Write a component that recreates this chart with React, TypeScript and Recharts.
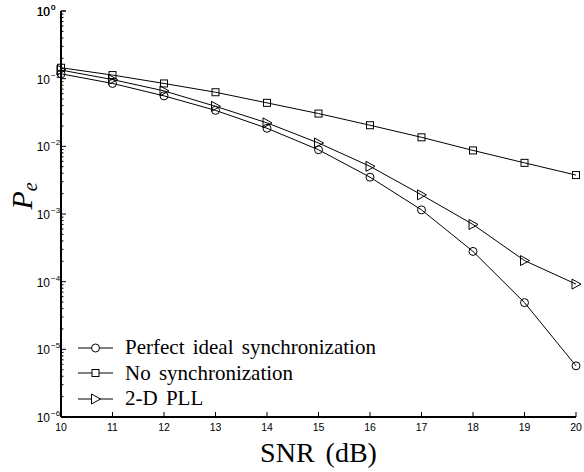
import React from "react";
import { LineChart, Line, XAxis, YAxis, Legend } from "recharts";

// SNR (dB) values on the x axis
const snr = [10, 11, 12, 13, 14, 15, 16, 17, 18, 19, 20];

// error probability per series
const perfectSync = [0.118, 0.085, 0.0557, 0.034, 0.0185, 0.0089, 0.0035, 0.00115, 0.00028, 0.000049, 0.0000057];
const noSync = [0.145, 0.113, 0.085, 0.063, 0.0439, 0.0305, 0.0205, 0.0136, 0.0087, 0.0057, 0.00376];
const pll2d = [0.134, 0.097, 0.066, 0.039, 0.0222, 0.0112, 0.00506, 0.00192, 0.0007, 0.000205, 0.000092];

// y axis decades (exponents of 10)
const decades = [-6, -5, -4, -3, -2, -1, 0];

const data = snr.map((s, i) => ({
  snr: s,
  perfect: perfectSync[i],
  nosync: noSync[i],
  pll: pll2d[i],
}));

// major + minor log ticks
const yTicks: number[] = [];
decades.forEach((e) => {
  if (e === 0) {
    yTicks.push(1);
    return;
  }
  for (let k = 1; k <= 9; k++) yTicks.push(k * Math.pow(10, e));
});
yTicks.push(1);

const sans = '"Liberation Sans", Arial, Helvetica, sans-serif';
const serif = '"Liberation Serif", "Times New Roman", serif';

const isMajor = (v: number) => {
  const l = Math.log10(v);
  return Math.abs(l - Math.round(l)) < 1e-6;
};

const LeftTick = (props: any) => {
  const { x, y, payload } = props;
  const v = payload.value;
  const major = isMajor(v);
  const exp = Math.round(Math.log10(v));
  return (
    <g>
      <line x1={x} x2={x + (major ? 5 : 2.5)} y1={y} y2={y} stroke="#000" />
      {major && (
        <>
          <text x={x - 11} y={y + 5} textAnchor="end" fontSize={12} fontFamily={sans} fill="#000">
            10
          </text>
          <text x={x - 10} y={y - 1} textAnchor="start" fontSize={8} fontFamily={sans} fill="#000">
            {exp < 0 ? "\u2212" + Math.abs(exp) : String(exp)}
          </text>
        </>
      )}
    </g>
  );
};

const RightTick = (props: any) => {
  const { x, y, payload } = props;
  const major = isMajor(payload.value);
  return <line x1={x} x2={x - (major ? 5 : 2.5)} y1={y} y2={y} stroke="#000" />;
};

const BottomTick = (props: any) => {
  const { x, y, payload } = props;
  return (
    <g>
      <line x1={x} x2={x} y1={y} y2={y - 5} stroke="#000" />
      <text x={x} y={y + 14} textAnchor="middle" fontSize={10.5} fontFamily={sans} fill="#000">
        {payload.value}
      </text>
    </g>
  );
};

const TopTick = (props: any) => {
  const { x, y } = props;
  return <line x1={x} x2={x} y1={y} y2={y + 5} stroke="#000" />;
};

const CircleDot = (p: any) => (
  <circle key={p.index} cx={p.cx} cy={p.cy} r={4} fill="none" stroke="#000" />
);
const SquareDot = (p: any) => (
  <rect key={p.index} x={p.cx - 3.5} y={p.cy - 3.5} width={7} height={7} fill="none" stroke="#000" />
);
const TriDot = (p: any) => (
  <polygon
    key={p.index}
    points={`${p.cx - 4},${p.cy - 5} ${p.cx - 4},${p.cy + 5} ${p.cx + 5},${p.cy}`}
    fill="none"
    stroke="#000"
  />
);

const legendItems = [
  { label: "Perfect ideal synchronization", marker: "circle" },
  { label: "No synchronization", marker: "square" },
  { label: "2-D PLL", marker: "tri" },
];

const renderLegend = () => (
  <div>
    {legendItems.map((it) => (
      <div key={it.label} style={{ display: "flex", alignItems: "center", height: 25.5 }}>
        <svg width={40} height={20} style={{ display: "block" }}>
          <line x1={2} x2={37} y1={10} y2={10} stroke="#000" />
          {it.marker === "circle" && <circle cx={19.5} cy={10} r={4} fill="#fff" stroke="#000" />}
          {it.marker === "square" && <rect x={16} y={6.5} width={7} height={7} fill="#fff" stroke="#000" />}
          {it.marker === "tri" && <polygon points="15.5,5 15.5,15 24.5,10" fill="#fff" stroke="#000" />}
        </svg>
        <span
          style={{
            marginLeft: 9,
            fontFamily: serif,
            fontSize: 21,
            wordSpacing: 3,
            color: "#000",
            whiteSpace: "nowrap",
            lineHeight: 1,
          }}
        >
          {it.label}
        </span>
      </div>
    ))}
  </div>
);

export default function App() {
  return (
    <div style={{ position: "absolute", left: 0, top: 0, background: "#fff" }}>
      <LineChart width={584} height={472} data={data} margin={{ top: 11, right: 8, bottom: 0, left: 0 }}>
        <XAxis
          xAxisId="b"
          dataKey="snr"
          type="number"
          domain={[10, 20]}
          ticks={snr}
          interval={0}
          height={55}
          tickSize={0}
          tickMargin={0}
          tickLine={false}
          axisLine={{ stroke: "#000", strokeWidth: 2 }}
          tick={BottomTick}
          label={(p: any) => (
            <text
              x={p.viewBox.x + p.viewBox.width / 2}
              y={p.viewBox.y + 45}
              textAnchor="middle"
              fontSize={28}
              fontFamily={serif}
              wordSpacing={4}
              fill="#000"
            >
              SNR (dB)
            </text>
          )}
        />
        <XAxis
          xAxisId="t"
          orientation="top"
          dataKey="snr"
          type="number"
          domain={[10, 20]}
          ticks={snr}
          interval={0}
          height={0}
          tickSize={0}
          tickMargin={0}
          tickLine={false}
          axisLine={{ stroke: "#000", strokeWidth: 2 }}
          tick={TopTick}
        />
        <YAxis
          yAxisId="l"
          type="number"
          scale="log"
          domain={[1e-6, 1]}
          ticks={yTicks}
          interval={0}
          width={61}
          tickSize={0}
          tickMargin={0}
          tickLine={false}
          axisLine={{ stroke: "#000", strokeWidth: 2 }}
          tick={LeftTick}
          label={(p: any) => (
            <text
              transform={`translate(32, ${p.viewBox.y + p.viewBox.height / 2 - 18}) rotate(-90)`}
              textAnchor="middle"
              fontFamily={serif}
              fontStyle="italic"
              fill="#000"
            >
              <tspan fontSize={30}>P</tspan>
              <tspan fontSize={20} dy={5}>e</tspan>
            </text>
          )}
        />
        <YAxis
          yAxisId="r"
          orientation="right"
          type="number"
          scale="log"
          domain={[1e-6, 1]}
          ticks={yTicks}
          interval={0}
          width={0}
          tickSize={0}
          tickMargin={0}
          tickLine={false}
          axisLine={{ stroke: "#000", strokeWidth: 2 }}
          tick={RightTick}
        />
        <Legend
          layout="vertical"
          align="center"
          verticalAlign="middle"
          content={renderLegend}
          wrapperStyle={{ position: "absolute", left: 76, top: 335, width: 320, height: "auto" }}
        />
        <Line
          xAxisId="b"
          yAxisId="l"
          dataKey="perfect"
          stroke="#000"
          strokeWidth={1}
          dot={CircleDot}
          isAnimationActive={false}
        />
        <Line
          xAxisId="b"
          yAxisId="l"
          dataKey="nosync"
          stroke="#000"
          strokeWidth={1}
          dot={SquareDot}
          isAnimationActive={false}
        />
        <Line
          xAxisId="b"
          yAxisId="l"
          dataKey="pll"
          stroke="#000"
          strokeWidth={1}
          dot={TriDot}
          isAnimationActive={false}
        />
      </LineChart>
    </div>
  );
}
